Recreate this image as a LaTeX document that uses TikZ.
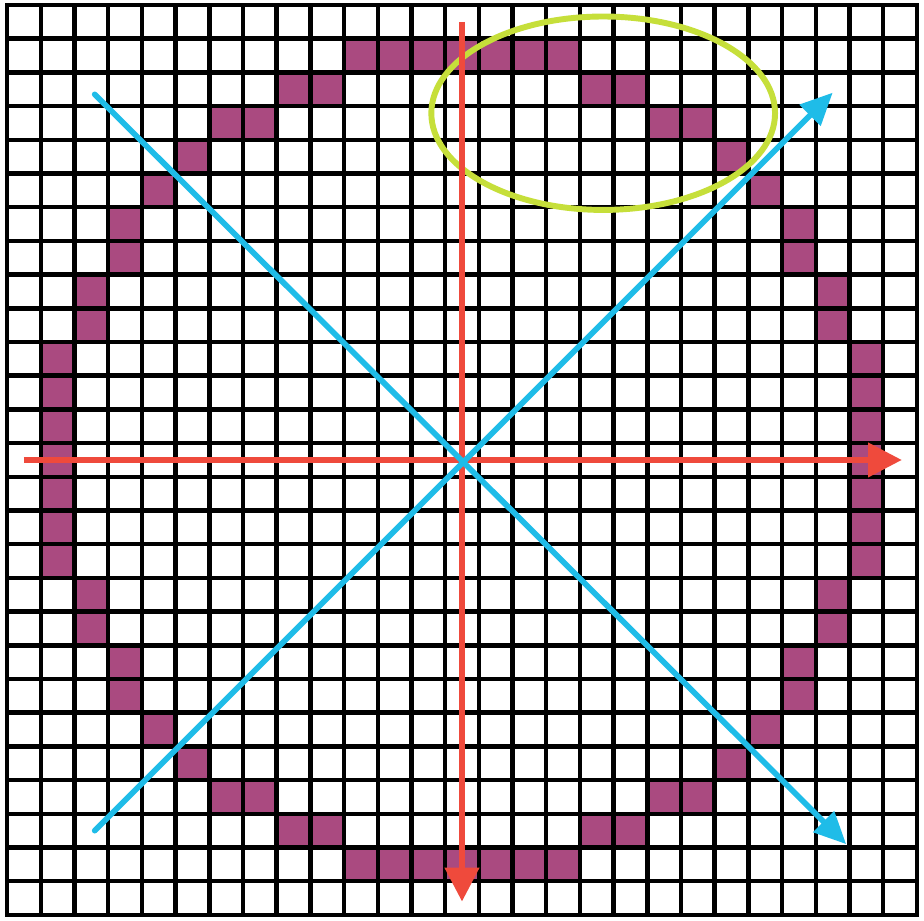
\documentclass[tikz,border=0pt]{standalone}
\usetikzlibrary{arrows.meta,shapes.geometric}
\definecolor{Pixel}{HTML}{AA4A80}
\definecolor{Axis}{HTML}{EF4A3C}
\definecolor{Diag}{HTML}{1FBCE8}
\definecolor{Octant}{HTML}{C6DF3A}
\tikzset{
  pix/.style={fill=Pixel},
  gridline/.style={draw=black,line width=3.8pt,line cap=rect},
  axis/.style={-{Triangle[length=1cm,width=1cm]},draw=Axis,line width=4.4pt},
  diag/.style={-{Triangle[length=.95cm,width=.85cm]},draw=Diag,line width=4.8pt,line cap=round},
  octring/.style={draw=Octant,line width=5pt,ellipse,inner sep=0pt,minimum width=10.2cm,minimum height=5.74cm}
}
\begin{document}
\begin{tikzpicture}
  \fill[white] (-13.71,-13.66) rectangle (13.71,13.65);
  \useasboundingbox (-13.71,-13.66) rectangle (13.71,13.65);
  \foreach \a/\b in {0/12,1/12,2/12,3/12,4/11,5/11,6/10,7/10,8/9}
    \foreach \sx in {-1,1}
      \foreach \sy in {-1,1} {
        \fill[pix] ({\sx*\a-.5},{\sy*\b-.5}) rectangle ++(1,1);
        \fill[pix] ({\sx*\b-.5},{\sy*\a-.5}) rectangle ++(1,1);
      }
  \foreach \k in {-13.5,-12.5,...,13.5} {
    \draw[gridline] (\k,-13.5) -- (\k,13.5);
    \draw[gridline] (-13.5,\k) -- (13.5,\k);
  }
  \node[octring] (octant) at (4.19,10.29) {};
  \coordinate (north) at (0,13);
  \coordinate (south) at (0,-13.1);
  \coordinate (west) at (-13,0);
  \coordinate (east) at (13.05,0);
  \coordinate (nw) at (-10.9,10.85);
  \coordinate (se) at (11.4,-11.4);
  \coordinate (sw) at (-10.9,-11);
  \coordinate (ne) at (11,10.9);
  \draw[axis] (north) -- (south);
  \draw[axis] (west) -- (east);
  \draw[diag] (nw) -- (se);
  \draw[diag] (sw) -- (ne);
\end{tikzpicture}
\end{document}
